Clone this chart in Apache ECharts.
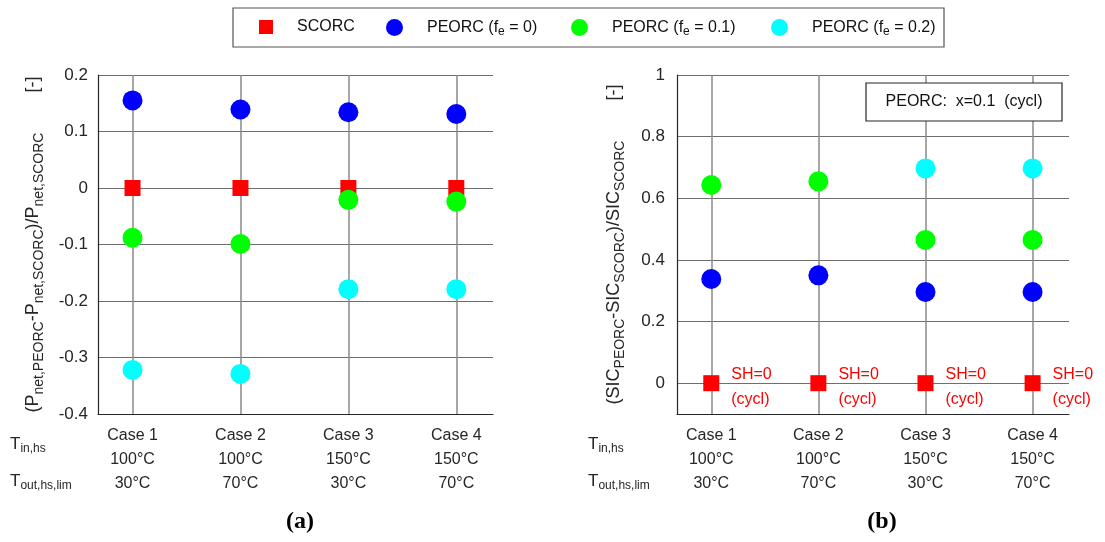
<!DOCTYPE html>
<html>
<head>
<meta charset="utf-8">
<script src="https://cdn.jsdelivr.net/npm/echarts@6/dist/echarts.min.js"></script>
<style>
  html, body { margin: 0; padding: 0; background: #fff; }
  #chart { width: 1105px; height: 542px; }
</style>
</head>
<body>
<div id="chart"></div>
<script>
// case positions on the x axis
var caseX = [1, 2, 3, 4];
var caseLabels = ['Case 1', 'Case 2', 'Case 3', 'Case 4'];
var tinLabels = ['100°C', '100°C', '150°C', '150°C'];
var toutLabels = ['30°C', '70°C', '30°C', '70°C'];

// (a) relative net power
var netScorc = [0, 0, 0, 0];
var netFe0 = [0.155, 0.139, 0.134, 0.131];
var netFe01 = [-0.088, -0.099, -0.021, -0.024];
var netFe02 = [-0.322, -0.329, -0.179, -0.179];

// (b) relative SIC
var sicScorc = [0, 0, 0, 0];
var sicFe0 = [0.338, 0.350, 0.296, 0.296];
var sicFe01 = [0.643, 0.655, 0.465, 0.465];
var sicFe02 = [null, null, 0.697, 0.697];

var FONT = 'Liberation Sans, Arial, sans-serif';
var TXT = '#262626';

function pts(vals) {
  var out = [];
  vals.forEach(function (v, i) {
    if (v !== null) out.push([caseX[i], v]);
  });
  return out;
}

var subRich = {
  s: { fontFamily: FONT, fontSize: 12, color: TXT, padding: [10, 0, 0, 0] }
};

function xAxisFor(idx) {
  return {
    type: 'value', gridIndex: idx, min: 0.68, max: 4.34,
    axisLine: { show: true, onZero: false, lineStyle: { color: TXT, width: 1.2 } },
    axisTick: { show: false },
    splitLine: { show: true, showMinLine: false, showMaxLine: false, lineStyle: { color: '#8a8a8a', width: 1.5 } },
    axisLabel: {
      showMinLabel: false, showMaxLabel: false,
      margin: 10, fontFamily: FONT, fontSize: 16, color: TXT, lineHeight: 24,
      formatter: function (v) {
        var i = caseX.indexOf(Math.round(v * 1000) / 1000);
        if (i < 0) return '';
        return caseLabels[i] + '\n' + tinLabels[i] + '\n' + toutLabels[i];
      }
    }
  };
}

var chart = echarts.init(document.getElementById('chart'));

var legendItems = [
  { name: 'SCORC', left: 259, icon: 'rect', w: 14, h: 14 },
  { name: 'PEORC (fe = 0)', left: 386, icon: 'circle', w: 17, h: 18 },
  { name: 'PEORC (fe = 0.1)', left: 571, icon: 'circle', w: 17, h: 18 },
  { name: 'PEORC (fe = 0.2)', left: 771, icon: 'circle', w: 17, h: 18 }
];

var option = {
  animation: false,
  textStyle: { fontFamily: FONT },
  legend: legendItems.map(function (it) {
    return {
      data: [{ name: it.name, icon: it.icon }],
      left: it.left, top: 19,
      itemWidth: it.w, itemHeight: it.h,
      padding: 0,
      textStyle: {
        fontFamily: FONT, fontSize: 16, color: '#111',
        padding: [0, 0, 0, 19],
        rich: {
          s: { fontFamily: FONT, fontSize: 12, color: '#111', padding: [9, 0, 0, 0] }
        }
      },
      formatter: function (n) {
        return n.replace('(fe', '(f{s|e}');
      }
    };
  }),
  graphic: [
    { type: 'rect', shape: { x: 233, y: 8, width: 711, height: 39 }, style: { fill: 'none', stroke: '#555', lineWidth: 1.2 }, z: 0 },
    { type: 'rect', shape: { x: 866, y: 83, width: 196, height: 38 }, style: { fill: '#fff', stroke: TXT, lineWidth: 1.2 }, z: 50 },
    { type: 'text', x: 964, y: 102, z: 51, style: { text: 'PEORC:  x=0.1  (cycl)', fontFamily: FONT, fontSize: 16, fill: '#111', align: 'center', verticalAlign: 'middle' } },
    // row labels under the axes
    { type: 'text', x: 10, y: 433, style: { text: 'T{s|in,hs}', fontFamily: FONT, fontSize: 17, fill: TXT, rich: subRich } },
    { type: 'text', x: 10, y: 470, style: { text: 'T{s|out,hs,lim}', fontFamily: FONT, fontSize: 17, fill: TXT, rich: subRich } },
    { type: 'text', x: 588, y: 433, style: { text: 'T{s|in,hs}', fontFamily: FONT, fontSize: 17, fill: TXT, rich: subRich } },
    { type: 'text', x: 588, y: 470, style: { text: 'T{s|out,hs,lim}', fontFamily: FONT, fontSize: 17, fill: TXT, rich: subRich } },
    { type: 'text', x: 300, y: 522, style: { text: '(a)', fontFamily: 'Liberation Serif, Times New Roman, serif', fontWeight: 'bold', fontSize: 24, fill: '#000', align: 'center', verticalAlign: 'middle' } },
    { type: 'text', x: 882, y: 522, style: { text: '(b)', fontFamily: 'Liberation Serif, Times New Roman, serif', fontWeight: 'bold', fontSize: 24, fill: '#000', align: 'center', verticalAlign: 'middle' } }
  ],
  grid: [
    { left: 98, top: 75, width: 395, height: 339 },
    { left: 677, top: 75, width: 392, height: 339 }
  ],
  xAxis: [xAxisFor(0), xAxisFor(1)],
  yAxis: [
    {
      type: 'value', gridIndex: 0, min: -0.4, max: 0.2, interval: 0.1,
      axisLine: { show: true, lineStyle: { color: TXT, width: 1.2 } },
      axisTick: { show: false },
      splitLine: { lineStyle: { color: '#6e6e6e', width: 1.2 } },
      axisLabel: { fontFamily: FONT, fontSize: 17, color: TXT, margin: 10,
        formatter: function (v) { return String(Math.round(v * 10) / 10); } },
      name: '(P{s|net,PEORC}-P{s|net,SCORC})/P{s|net,SCORC}        [-]',
      nameLocation: 'middle', nameRotate: 90, nameGap: 52,
      nameTextStyle: { fontFamily: FONT, fontSize: 18, color: TXT,
        rich: { s: { fontFamily: FONT, fontSize: 14, color: TXT, padding: [11, 0, 0, 0] } } }
    },
    {
      type: 'value', gridIndex: 1, min: -0.1, max: 1, splitNumber: 5,
      axisLine: { show: true, lineStyle: { color: TXT, width: 1.2 } },
      axisTick: { show: false },
      splitLine: { showMinLine: false, lineStyle: { color: '#6e6e6e', width: 1.2 } },
      axisLabel: { showMinLabel: false, fontFamily: FONT, fontSize: 17, color: TXT, margin: 12,
        formatter: function (v) { return Math.abs(v + 0.1) < 1e-6 ? '' : String(Math.round(v * 10) / 10); } },
      name: '(SIC{s|PEORC}-SIC{s|SCORC})/SIC{s|SCORC}        [-]',
      nameLocation: 'middle', nameRotate: 90, nameGap: 50,
      nameTextStyle: { fontFamily: FONT, fontSize: 18, color: TXT,
        rich: { s: { fontFamily: FONT, fontSize: 14, color: TXT, padding: [11, 0, 0, 0] } } }
    }
  ],
  series: [
    { name: 'SCORC', type: 'scatter', xAxisIndex: 0, yAxisIndex: 0, symbol: 'rect', symbolSize: 16, itemStyle: { color: '#ff0000', opacity: 1 }, data: pts(netScorc) },
    { name: 'PEORC (fe = 0)', type: 'scatter', xAxisIndex: 0, yAxisIndex: 0, symbol: 'circle', symbolSize: 20, itemStyle: { color: '#0000ff', opacity: 1 }, data: pts(netFe0) },
    { name: 'PEORC (fe = 0.1)', type: 'scatter', xAxisIndex: 0, yAxisIndex: 0, symbol: 'circle', symbolSize: 20, itemStyle: { color: '#00ff00', opacity: 1 }, data: pts(netFe01) },
    { name: 'PEORC (fe = 0.2)', type: 'scatter', xAxisIndex: 0, yAxisIndex: 0, symbol: 'circle', symbolSize: 20, itemStyle: { color: '#00ffff', opacity: 1 }, data: pts(netFe02) },

    { name: 'SCORC', type: 'scatter', xAxisIndex: 1, yAxisIndex: 1, symbol: 'rect', symbolSize: 16, itemStyle: { color: '#ff0000', opacity: 1 }, data: pts(sicScorc),
      label: { show: true, position: 'right', distance: 12, offset: [0, 4], formatter: 'SH=0\n(cycl)', color: '#ff0000', fontFamily: FONT, fontSize: 16, lineHeight: 25, align: 'left' } },
    { name: 'PEORC (fe = 0)', type: 'scatter', xAxisIndex: 1, yAxisIndex: 1, symbol: 'circle', symbolSize: 20, itemStyle: { color: '#0000ff', opacity: 1 }, data: pts(sicFe0) },
    { name: 'PEORC (fe = 0.1)', type: 'scatter', xAxisIndex: 1, yAxisIndex: 1, symbol: 'circle', symbolSize: 20, itemStyle: { color: '#00ff00', opacity: 1 }, data: pts(sicFe01) },
    { name: 'PEORC (fe = 0.2)', type: 'scatter', xAxisIndex: 1, yAxisIndex: 1, symbol: 'circle', symbolSize: 20, itemStyle: { color: '#00ffff', opacity: 1 }, data: pts(sicFe02) }
  ]
};

chart.setOption(option);
</script>
</body>
</html>
